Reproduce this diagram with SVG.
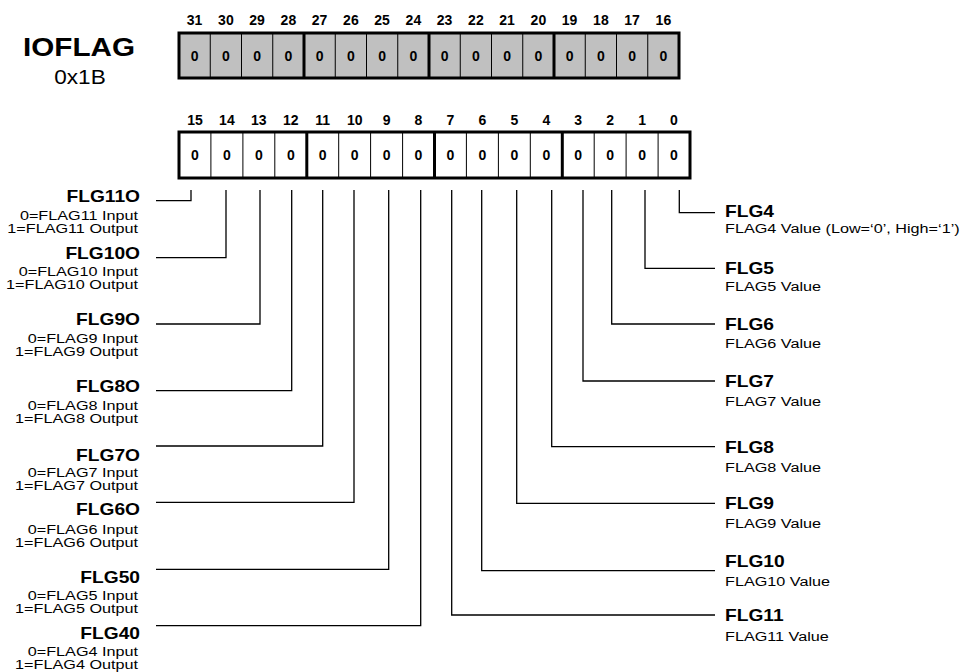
<svg xmlns="http://www.w3.org/2000/svg" width="963" height="672" viewBox="0 0 963 672">
<style>
text{font-family:"Liberation Sans",Arial,Helvetica,sans-serif;fill:#000}
.t{font-size:26px;font-weight:bold;text-anchor:middle}
.a{font-size:20px;text-anchor:middle}
.bit{font-size:14px;font-weight:bold;text-anchor:middle}
.val{font-size:14px;font-weight:bold;text-anchor:middle}
.lb{font-size:16px;font-weight:bold}
.sb{font-size:13.5px}
.r{text-anchor:end}
.ln{stroke:#000;stroke-width:1.3;fill:none}
.thin{stroke:#000;stroke-width:1}
.thick{stroke:#000;stroke-width:3}
</style>
<g id="title">
<text class="t" transform="translate(79,56) scale(1.14,1)">IOFLAG</text>
<text class="a" transform="translate(80,84) scale(1.13,1)">0x1B</text>
</g>
<g id="reg-high">
<rect x="179" y="33" width="500" height="45" fill="#c0c0c0" stroke="none"/>
<g class="thin">
<line x1="210.25" y1="33" x2="210.25" y2="78"/><line x1="241.5" y1="33" x2="241.5" y2="78"/><line x1="272.75" y1="33" x2="272.75" y2="78"/>
<line x1="335.25" y1="33" x2="335.25" y2="78"/><line x1="366.5" y1="33" x2="366.5" y2="78"/><line x1="397.75" y1="33" x2="397.75" y2="78"/>
<line x1="460.25" y1="33" x2="460.25" y2="78"/><line x1="491.5" y1="33" x2="491.5" y2="78"/><line x1="522.75" y1="33" x2="522.75" y2="78"/>
<line x1="585.25" y1="33" x2="585.25" y2="78"/><line x1="616.5" y1="33" x2="616.5" y2="78"/><line x1="647.75" y1="33" x2="647.75" y2="78"/>
</g>
<g class="thick">
<line x1="304" y1="33" x2="304" y2="78"/><line x1="429" y1="33" x2="429" y2="78"/><line x1="554" y1="33" x2="554" y2="78"/>
</g>
<rect x="179" y="33" width="500" height="45" fill="none" stroke="#000" stroke-width="3"/>
<g class="bit">
<text x="194.6" y="25">31</text><text x="225.9" y="25">30</text><text x="257.1" y="25">29</text><text x="288.4" y="25">28</text>
<text x="319.6" y="25">27</text><text x="350.9" y="25">26</text><text x="382.1" y="25">25</text><text x="413.4" y="25">24</text>
<text x="444.6" y="25">23</text><text x="475.9" y="25">22</text><text x="507.1" y="25">21</text><text x="538.4" y="25">20</text>
<text x="569.6" y="25">19</text><text x="600.9" y="25">18</text><text x="632.1" y="25">17</text><text x="663.4" y="25">16</text>
</g>
<g class="val">
<text x="194.6" y="60.5">0</text><text x="225.9" y="60.5">0</text><text x="257.1" y="60.5">0</text><text x="288.4" y="60.5">0</text>
<text x="319.6" y="60.5">0</text><text x="350.9" y="60.5">0</text><text x="382.1" y="60.5">0</text><text x="413.4" y="60.5">0</text>
<text x="444.6" y="60.5">0</text><text x="475.9" y="60.5">0</text><text x="507.1" y="60.5">0</text><text x="538.4" y="60.5">0</text>
<text x="569.6" y="60.5">0</text><text x="600.9" y="60.5">0</text><text x="632.1" y="60.5">0</text><text x="663.4" y="60.5">0</text>
</g>
</g>
<g id="reg-low">
<rect x="179" y="132" width="511" height="46" fill="#fff" stroke="none"/>
<g class="thin">
<line x1="210.9" y1="132" x2="210.9" y2="178"/><line x1="242.9" y1="132" x2="242.9" y2="178"/><line x1="274.8" y1="132" x2="274.8" y2="178"/>
<line x1="338.7" y1="132" x2="338.7" y2="178"/><line x1="370.6" y1="132" x2="370.6" y2="178"/><line x1="402.6" y1="132" x2="402.6" y2="178"/>
<line x1="466.4" y1="132" x2="466.4" y2="178"/><line x1="498.4" y1="132" x2="498.4" y2="178"/><line x1="530.3" y1="132" x2="530.3" y2="178"/>
<line x1="594.2" y1="132" x2="594.2" y2="178"/><line x1="626.1" y1="132" x2="626.1" y2="178"/><line x1="658.1" y1="132" x2="658.1" y2="178"/>
</g>
<g class="thick">
<line x1="306.8" y1="132" x2="306.8" y2="178"/><line x1="434.5" y1="132" x2="434.5" y2="178"/><line x1="562.3" y1="132" x2="562.3" y2="178"/>
</g>
<rect x="179" y="132" width="511" height="46" fill="none" stroke="#000" stroke-width="3"/>
<g class="bit">
<text x="195" y="125">15</text><text x="226.9" y="125">14</text><text x="258.8" y="125">13</text><text x="290.8" y="125">12</text>
<text x="322.7" y="125">11</text><text x="354.7" y="125">10</text><text x="386.6" y="125">9</text><text x="418.5" y="125">8</text>
<text x="450.5" y="125">7</text><text x="482.4" y="125">6</text><text x="514.3" y="125">5</text><text x="546.3" y="125">4</text>
<text x="578.2" y="125">3</text><text x="610.2" y="125">2</text><text x="642.1" y="125">1</text><text x="674" y="125">0</text>
</g>
<g class="val">
<text x="195" y="160">0</text><text x="226.9" y="160">0</text><text x="258.8" y="160">0</text><text x="290.8" y="160">0</text>
<text x="322.7" y="160">0</text><text x="354.7" y="160">0</text><text x="386.6" y="160">0</text><text x="418.5" y="160">0</text>
<text x="450.5" y="160">0</text><text x="482.4" y="160">0</text><text x="514.3" y="160">0</text><text x="546.3" y="160">0</text>
<text x="578.2" y="160">0</text><text x="610.2" y="160">0</text><text x="642.1" y="160">0</text><text x="674" y="160">0</text>
</g>
</g>
<g id="connectors" class="ln">
<polyline points="156,200.7 191,200.7 191,190"/>
<polyline points="156,257.7 226,257.7 226,190"/>
<polyline points="156,324 260,324 260,190"/>
<polyline points="156,390.7 291.7,390.7 291.7,190"/>
<polyline points="156,446 322.7,446 322.7,190"/>
<polyline points="156,502.3 354,502.3 354,190"/>
<polyline points="156,569.3 388.7,569.3 388.7,190"/>
<polyline points="156,625.7 420.7,625.7 420.7,190"/>
<polyline points="451.7,190 451.7,615 715,615"/>
<polyline points="481.7,190 481.7,570.7 715,570.7"/>
<polyline points="516.7,190 516.7,503.3 715,503.3"/>
<polyline points="551.7,190 551.7,446.7 715,446.7"/>
<polyline points="583,190 583,381 715,381"/>
<polyline points="611.7,190 611.7,324 715,324"/>
<polyline points="645,190 645,268.3 715,268.3"/>
<polyline points="679.3,190 679.3,212.7 715,212.7"/>
</g>
<g id="flg11o"><text class="lb r" transform="translate(140,202) scale(1.2,1)">FLG11O</text><text class="sb r" transform="translate(138,220) scale(1.2,1)">0=FLAG11 Input</text><text class="sb r" transform="translate(138,233) scale(1.2,1)">1=FLAG11 Output</text></g>
<g id="flg10o"><text class="lb r" transform="translate(140,258.5) scale(1.2,1)">FLG10O</text><text class="sb r" transform="translate(138,276) scale(1.2,1)">0=FLAG10 Input</text><text class="sb r" transform="translate(138,289) scale(1.2,1)">1=FLAG10 Output</text></g>
<g id="flg9o"><text class="lb r" transform="translate(140,325) scale(1.2,1)">FLG9O</text><text class="sb r" transform="translate(138,342.5) scale(1.2,1)">0=FLAG9 Input</text><text class="sb r" transform="translate(138,355.5) scale(1.2,1)">1=FLAG9 Output</text></g>
<g id="flg8o"><text class="lb r" transform="translate(140,391.5) scale(1.2,1)">FLG8O</text><text class="sb r" transform="translate(138,409.5) scale(1.2,1)">0=FLAG8 Input</text><text class="sb r" transform="translate(138,422.5) scale(1.2,1)">1=FLAG8 Output</text></g>
<g id="flg7o"><text class="lb r" transform="translate(140,461) scale(1.2,1)">FLG7O</text><text class="sb r" transform="translate(138,476.5) scale(1.2,1)">0=FLAG7 Input</text><text class="sb r" transform="translate(138,489.5) scale(1.2,1)">1=FLAG7 Output</text></g>
<g id="flg6o"><text class="lb r" transform="translate(140,515) scale(1.2,1)">FLG6O</text><text class="sb r" transform="translate(138,533.5) scale(1.2,1)">0=FLAG6 Input</text><text class="sb r" transform="translate(138,546.5) scale(1.2,1)">1=FLAG6 Output</text></g>
<g id="flg5o"><text class="lb r" transform="translate(140,582.5) scale(1.2,1)">FLG50</text><text class="sb r" transform="translate(138,600) scale(1.2,1)">0=FLAG5 Input</text><text class="sb r" transform="translate(138,613) scale(1.2,1)">1=FLAG5 Output</text></g>
<g id="flg4o"><text class="lb r" transform="translate(140,638.5) scale(1.2,1)">FLG40</text><text class="sb r" transform="translate(138,656) scale(1.2,1)">0=FLAG4 Input</text><text class="sb r" transform="translate(138,669) scale(1.2,1)">1=FLAG4 Output</text></g>
<g id="flg4"><text class="lb" transform="translate(725,217) scale(1.2,1)">FLG4</text><text class="sb" transform="translate(725,232.5) scale(1.2,1)">FLAG4 Value (Low=‘0’, High=‘1’)</text></g>
<g id="flg5"><text class="lb" transform="translate(725,274) scale(1.2,1)">FLG5</text><text class="sb" transform="translate(725,291) scale(1.2,1)">FLAG5 Value</text></g>
<g id="flg6"><text class="lb" transform="translate(725,330) scale(1.2,1)">FLG6</text><text class="sb" transform="translate(725,348) scale(1.2,1)">FLAG6 Value</text></g>
<g id="flg7"><text class="lb" transform="translate(725,387) scale(1.2,1)">FLG7</text><text class="sb" transform="translate(725,406) scale(1.2,1)">FLAG7 Value</text></g>
<g id="flg8"><text class="lb" transform="translate(725,453) scale(1.2,1)">FLG8</text><text class="sb" transform="translate(725,472) scale(1.2,1)">FLAG8 Value</text></g>
<g id="flg9"><text class="lb" transform="translate(725,509) scale(1.2,1)">FLG9</text><text class="sb" transform="translate(725,528) scale(1.2,1)">FLAG9 Value</text></g>
<g id="flg10"><text class="lb" transform="translate(725,567) scale(1.2,1)">FLG10</text><text class="sb" transform="translate(725,586) scale(1.2,1)">FLAG10 Value</text></g>
<g id="flg11"><text class="lb" transform="translate(725,621) scale(1.2,1)">FLG11</text><text class="sb" transform="translate(725,641) scale(1.2,1)">FLAG11 Value</text></g>
</svg>
